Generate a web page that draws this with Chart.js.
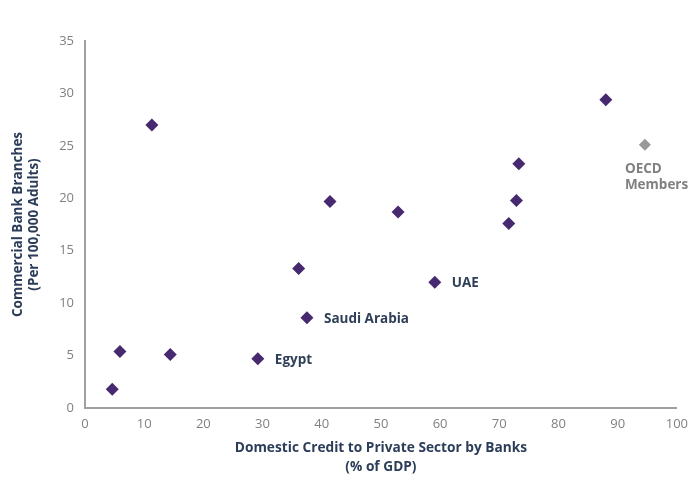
<!DOCTYPE html>
<html>
<head>
<meta charset="utf-8">
<script src="https://cdn.jsdelivr.net/npm/chart.js@4.4.1/dist/chart.umd.min.js"></script>
<style>
  html, body { margin: 0; padding: 0; background: #ffffff; }
  #wrap { width: 691px; height: 481px; position: relative; }
</style>
</head>
<body>
<div id="wrap"><canvas id="c" width="691" height="481"></canvas></div>
<script>
// Data
const credit = [4.6, 5.9, 11.3, 14.4, 29.2, 36.1, 37.5, 41.4, 52.9, 59.1, 71.6, 72.9, 73.3, 88.0];
const branches = [1.8, 5.4, 27.0, 5.1, 4.7, 13.3, 8.6, 19.7, 18.7, 12.0, 17.6, 19.8, 23.3, 29.4];
const countryLabels = ['', '', '', '', 'Egypt', '', 'Saudi Arabia', '', '', 'UAE', '', '', '', ''];
const oecdCredit = [94.6];
const oecdBranches = [25.1];
const oecdLabel = ['OECD', 'Members'];
const xTitle = ['Domestic Credit to Private Sector by Banks', '(% of GDP)'];
const yTitle = ['Commercial Bank Branches', '(Per 100,000 Adults)'];

const FONT = "'Open Sans', 'Noto Sans', sans-serif";

const labelPlugin = {
  id: 'pointLabels',
  afterDatasetsDraw(chart) {
    const ctx = chart.ctx;
    ctx.save();
    ctx.font = 'bold 13.5px ' + FONT;
    ctx.textBaseline = 'middle';
    ctx.textAlign = 'left';
    const m0 = chart.getDatasetMeta(0);
    ctx.fillStyle = '#2f3f58';
    countryLabels.forEach((lab, i) => {
      if (!lab) return;
      const el = m0.data[i];
      ctx.fillText(lab, el.x + 17, el.y + 1);
    });
    const m1 = chart.getDatasetMeta(1);
    ctx.fillStyle = '#808080';
    const el = m1.data[0];
    oecdLabel.forEach((line, k) => {
      ctx.fillText(line, el.x - 20, el.y + 24 + k * 16);
    });
    ctx.restore();
  }
};

new Chart(document.getElementById('c'), {
  type: 'scatter',
  data: {
    datasets: [
      {
        data: credit.map((x, i) => ({ x: x, y: branches[i] })),
        pointStyle: 'rectRot',
        pointRadius: 6.5,
        pointHoverRadius: 6.5,
        backgroundColor: '#46296f',
        borderWidth: 0
      },
      {
        data: oecdCredit.map((x, i) => ({ x: x, y: oecdBranches[i] })),
        pointStyle: 'rectRot',
        pointRadius: 6,
        pointHoverRadius: 6,
        backgroundColor: '#999999',
        borderWidth: 0
      }
    ]
  },
  options: {
    responsive: false,
    animation: false,
    devicePixelRatio: 1,
    layout: { padding: { top: 41, right: 14, left: 11, bottom: 0 } },
    plugins: { legend: { display: false }, tooltip: { enabled: false } },
    scales: {
      x: {
        type: 'linear',
        min: 0, max: 100,
        afterFit(s) { s.height = 73; },
        ticks: { stepSize: 10, color: '#808080', font: { family: FONT, size: 13 }, padding: 3, maxRotation: 0 },
        grid: { display: false, drawOnChartArea: false, drawTicks: true, tickLength: 5, color: '#a0a0a0' },
        border: { display: true, color: '#a0a0a0', width: 2 },
        title: { display: true, text: xTitle, color: '#2b3d58', font: { family: FONT, size: 13.7, weight: 'bold', lineHeight: 1.4 }, padding: { top: 17 } }
      },
      y: {
        type: 'linear',
        min: 0, max: 35,
        afterFit(s) { s.width = 74; },
        ticks: { stepSize: 5, color: '#808080', font: { family: FONT, size: 13 }, padding: 6 },
        grid: { display: false, drawOnChartArea: false, drawTicks: true, tickLength: 5, color: '#a0a0a0' },
        border: { display: true, color: '#a0a0a0', width: 2 },
        title: { display: true, text: yTitle, color: '#2b3d58', font: { family: FONT, size: 13.5, weight: 'bold', lineHeight: 1.12 }, padding: { top: 0, bottom: 0 } }
      }
    }
  },
  plugins: [labelPlugin]
});
</script>
</body>
</html>
